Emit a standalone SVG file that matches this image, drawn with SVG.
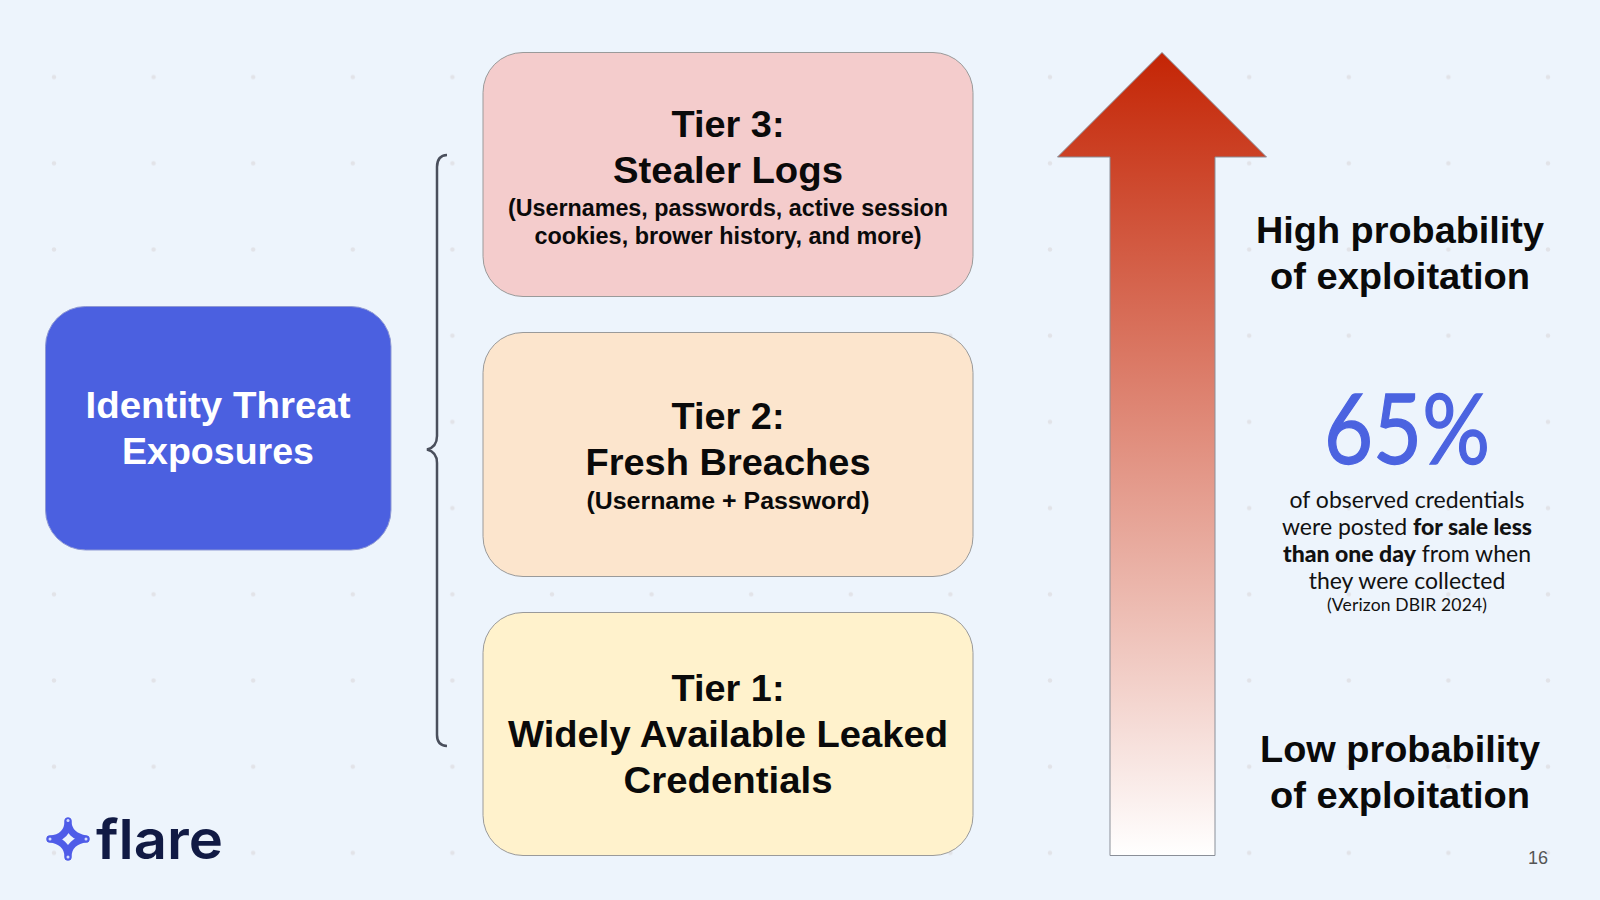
<svg xmlns="http://www.w3.org/2000/svg" width="1600" height="900" viewBox="0 0 1600 900">
<style>
.box{stroke:#9a9a9a;stroke-width:1}
.h{font:700 36px "Liberation Sans",Arial,sans-serif;text-anchor:middle;fill:#0a0a0a}
.s{font:700 23.500px "Liberation Sans",Arial,sans-serif;text-anchor:middle;fill:#0a0a0a}
.o{font-family:Lato,"Open Sans",sans-serif;text-anchor:middle;fill:#111}
.arm{fill:none;stroke:#4f5ce8;stroke-width:7;stroke-linecap:round}
.tip{fill:#d5dbff}
</style>
<defs>
<linearGradient id="g" x1="0" y1="0" x2="0" y2="1"><stop offset="0" stop-color="#c42505"/><stop offset="1" stop-color="#ffffff"/></linearGradient>
<pattern id="dotp" x="4.2" y="34" width="99.6" height="86.2" patternUnits="userSpaceOnUse"><circle cx="49.8" cy="43.1" r="2.2" fill="#e2e3e8"/></pattern>
</defs>
<rect width="1600" height="900" fill="#edf4fc"/>
<rect id="dots" x="4" y="34" width="1593" height="862" fill="url(#dotp)"/>
<g id="connectors"><path d="M447 155Q437 155.500 437 167V436Q437 447 427 449.500Q437 452 437 463V735Q437 745.500 447 746" fill="none" stroke="#4a4f5c" stroke-width="2.500"/></g>
<g id="identity"><rect x="45.500" y="306.500" width="345.500" height="243.500" rx="40" fill="#4b60e0" stroke="#8f99d4"/>
<text x="218" y="418" class="h" style="fill:#fff" textLength="265" lengthAdjust="spacingAndGlyphs">Identity Threat</text><text x="218" y="464" class="h" style="fill:#fff" textLength="192" lengthAdjust="spacingAndGlyphs">Exposures</text></g>
<g id="tier3"><rect class="box" x="483" y="52.500" width="490" height="244" rx="40" fill="#f4cccc"/>
<text x="728" y="137" class="h" textLength="113" lengthAdjust="spacingAndGlyphs">Tier 3:</text><text x="728" y="183" class="h" textLength="230" lengthAdjust="spacingAndGlyphs">Stealer Logs</text>
<text x="728" y="216" class="s" textLength="440" lengthAdjust="spacingAndGlyphs">(Usernames, passwords, active session</text><text x="728" y="244" class="s" textLength="387" lengthAdjust="spacingAndGlyphs">cookies, brower history, and more)</text></g>
<g id="tier2"><rect class="box" x="483" y="332.500" width="490" height="244" rx="40" fill="#fce5cd"/>
<text x="728" y="429" class="h" textLength="113" lengthAdjust="spacingAndGlyphs">Tier 2:</text><text x="728" y="475" class="h" textLength="285" lengthAdjust="spacingAndGlyphs">Fresh Breaches</text>
<text x="728" y="509" class="s" textLength="283" lengthAdjust="spacingAndGlyphs">(Username + Password)</text></g>
<g id="tier1"><rect class="box" x="483" y="612.500" width="490" height="243" rx="40" fill="#fff2cc"/>
<text x="728" y="701" class="h" textLength="113" lengthAdjust="spacingAndGlyphs">Tier 1:</text><text x="728" y="747" class="h" textLength="440" lengthAdjust="spacingAndGlyphs">Widely Available Leaked</text><text x="728" y="793" class="h" textLength="209" lengthAdjust="spacingAndGlyphs">Credentials</text></g>
<g id="arrow"><path d="M1162 52.500L1266.500 157H1215V855.500H1110V157H1057.500Z" fill="url(#g)" stroke="#8a8f98" stroke-width="1"/></g>
<g id="high"><text x="1400" y="243" class="h" textLength="288" lengthAdjust="spacingAndGlyphs">High probability</text><text x="1400" y="289" class="h" textLength="260" lengthAdjust="spacingAndGlyphs">of exploitation</text></g>
<g id="low"><text x="1400" y="762" class="h" textLength="280" lengthAdjust="spacingAndGlyphs">Low probability</text><text x="1400" y="808" class="h" textLength="260" lengthAdjust="spacingAndGlyphs">of exploitation</text></g>
<g id="stat">
<text x="1407" y="464" class="o" font-size="96" style="fill:#4b63e0;stroke:#4b63e0;stroke-width:1.300" textLength="166" lengthAdjust="spacingAndGlyphs">65%</text>
<text x="1407" y="507.500" class="o" font-size="23">of observed credentials</text>
<text x="1407" y="534.500" class="o" font-size="23">were posted <tspan font-weight="900">for sale less</tspan></text>
<text x="1407" y="561.500" class="o" font-size="23"><tspan font-weight="900">than one day</tspan> from when</text>
<text x="1407" y="588.500" class="o" font-size="23">they were collected</text>
<text x="1407" y="611" class="o" font-size="17.500" letter-spacing=".15">(Verizon DBIR 2024)</text>
</g>
<text id="page" x="1538" y="864" font-family="Liberation Sans,sans-serif" font-size="18" fill="#555" text-anchor="middle">16</text>
<g id="logo">
<path class="arm" d="M68 821C68 832 62 838 50 839"/><path class="arm" d="M68 821C68 831 75 837 86 839"/><path class="arm" d="M86 839C76 840 68 846 68 857"/><path class="arm" d="M50 839C60 840 68 846 68 857"/>
<circle class="tip" cx="68" cy="820.500" r="1.500"/><circle class="tip" cx="68" cy="857" r="1.500"/><circle class="tip" cx="50" cy="839" r="1.500"/><circle class="tip" cx="86" cy="839" r="1.500"/>
<text x="96" y="859" font-family="Inter,sans-serif" font-weight="600" font-size="55" fill="#111a44" textLength="127" lengthAdjust="spacingAndGlyphs">flare</text>
</g>
</svg>
